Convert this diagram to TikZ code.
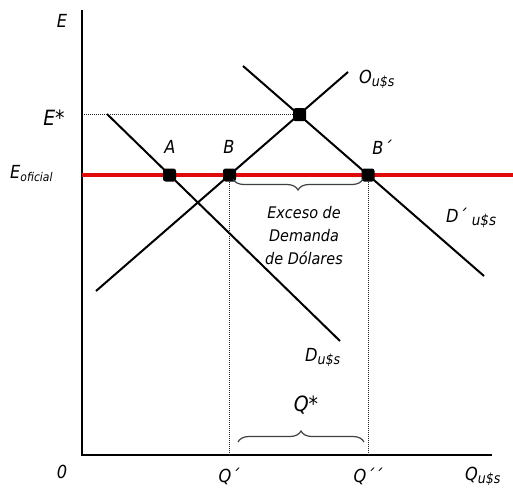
\documentclass[tikz,border=0pt]{standalone}
\usepackage{fontspec}
\setmainfont{DejaVu Sans Condensed}
\usetikzlibrary{decorations.pathreplacing}
\definecolor{ofred}{RGB}{225,10,10}
\begin{document}
\begin{tikzpicture}[x=1pt,y=-1pt,
  curve/.style={line width=2pt,black},
  axis/.style={line width=1.4pt,black},
  guide/.style={line width=1pt,densely dotted,black!85},
  dot/.style={rectangle,rounded corners=2.5pt,fill=black,minimum size=13pt,inner sep=0pt},
  lbl/.style={font=\fontsize{18}{20}\selectfont\itshape,inner sep=0pt},
  big/.style={font=\fontsize{21}{23}\selectfont\itshape,inner sep=0pt},
  small/.style={font=\fontsize{16}{23}\selectfont\itshape,inner sep=0pt,align=center},
  bracestyle/.style={line width=1.2pt,black!75,decorate,decoration={brace,amplitude=11pt}}]
\useasboundingbox (0,0) rectangle (513,489);
% axes
\coordinate (ytop) at (82,10);
\coordinate (orig) at (82,455);
\coordinate (xend) at (492,455);
\draw[axis] (ytop) -- (orig) -- (xend);
% official rate line
\coordinate (r0) at (82,175);
\coordinate (r1) at (513,175);
\draw[line width=4.5pt,ofred] (r0) -- (r1);
% curves
\coordinate (d0) at (107,114);
\coordinate (d1) at (340,341);
\coordinate (o0) at (96,291);
\coordinate (o1) at (348,72);
\coordinate (dp0) at (243,66);
\coordinate (dp1) at (484,276);
\draw[curve] (d0) -- (d1);
\draw[curve] (o0) -- (o1);
\draw[curve] (dp0) -- (dp1);
% points
\node[dot] (Es) at (299.5,114.7) {};
\node[dot] (A) at (169.5,175) {};
\node[dot] (B) at (229.5,175) {};
\node[dot] (Bp) at (368,175) {};
% guides
\coordinate (eax) at (84,114.7);
\draw[guide] (eax) -- (Es);
\coordinate (qp) at (229.5,455);
\coordinate (qpp) at (368,455);
\draw[guide] (B) -- (qp);
\draw[guide] (Bp) -- (qpp);
% braces
\coordinate (b0) at (233,179);
\coordinate (b1) at (363,179);
\draw[bracestyle,decoration={mirror}] (b0) -- (b1);
\coordinate (q0) at (238,442);
\coordinate (q1) at (364,442);
\draw[bracestyle] (q0) -- (q1);
% labels
\node[lbl] (lE) at (62,21) {E};
\node[big] (lEs) at (54,118) {E*};
\node[lbl,anchor=west] (lEo) at (10,174) {E\raisebox{-3pt}{\fontsize{12}{12}\selectfont oficial}};
\node[lbl] (lA) at (170,147) {A};
\node[lbl] (lB) at (229,147) {B};
\node[lbl] (lBp) at (382,147) {B´};
\node[lbl,anchor=west] (lO) at (359,79) {O\raisebox{-3pt}{\fontsize{14}{14}\selectfont u\$s}};
\node[lbl,anchor=west] (lDp) at (446,218) {D´ \raisebox{-3pt}{\fontsize{15}{15}\selectfont u\$s}};
\node[lbl,anchor=west] (lD) at (305,357) {D\raisebox{-3pt}{\fontsize{14}{14}\selectfont u\$s}};
\node[small] (lEx) at (304,236) {Exceso de\\Demanda\\de Dólares};
\node[big] (lQs) at (306,405) {Q*};
\node[lbl] (l0) at (62,472) {0};
\node[lbl] (lQp) at (229,476) {Q´};
\node[lbl] (lQpp) at (368,476) {Q´´};
\node[lbl,anchor=west] (lQ) at (465,476) {Q\raisebox{-3pt}{\fontsize{14}{14}\selectfont u\$s}};
\end{tikzpicture}
\end{document}
